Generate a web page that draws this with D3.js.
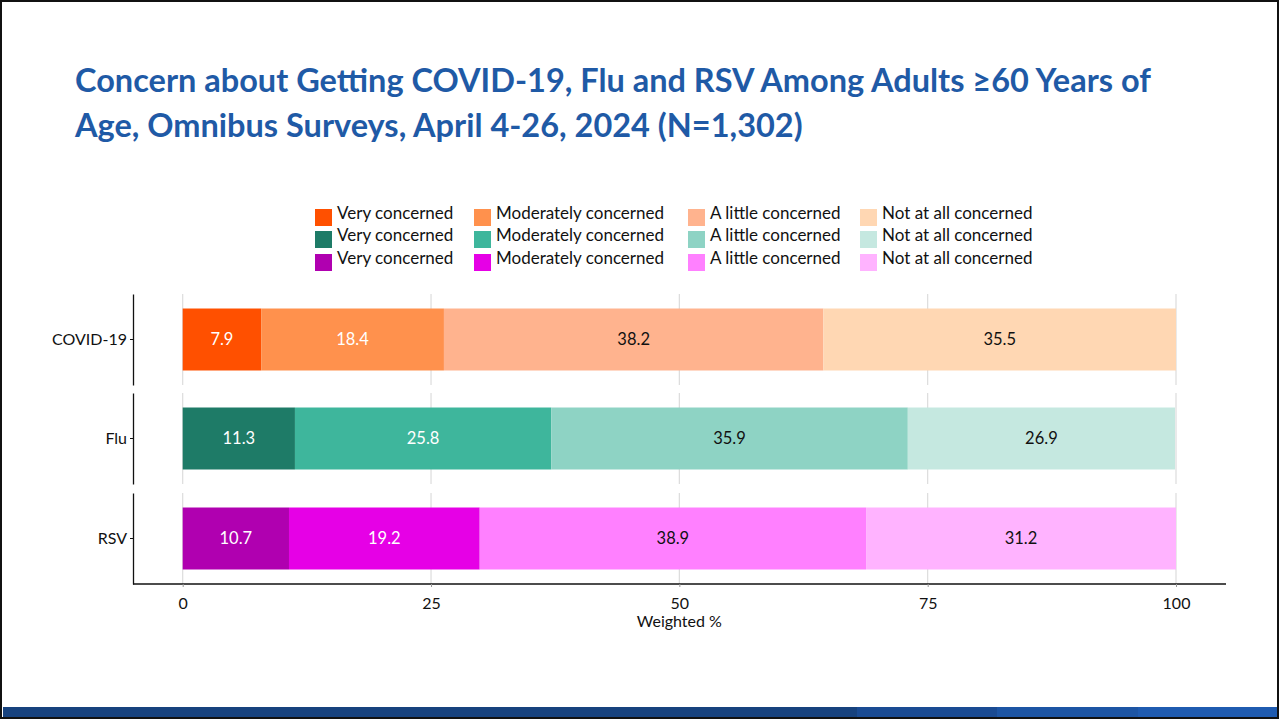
<!DOCTYPE html>
<html lang="en">
<head>
	<meta charset="utf-8">
	<title>Concern about COVID-19, Flu and RSV</title>
	<script src="https://cdn.jsdelivr.net/npm/d3@7"></script>
	<style>
		body { margin: 0; background: #fff; }
		svg { display: block; font-family: Lato, "Open Sans", sans-serif; }
	</style>
</head>
<body>
<script>
	// data
	var categories = ["COVID-19", "Flu", "RSV"];
	var levels = ["Very concerned", "Moderately concerned", "A little concerned", "Not at all concerned"];
	var covidValues = [7.9, 18.4, 38.2, 35.5];
	var fluValues = [11.3, 25.8, 35.9, 26.9];
	var rsvValues = [10.7, 19.2, 38.9, 31.2];
	var xTicks = [0, 25, 50, 75, 100];

	var seriesValues = [covidValues, fluValues, rsvValues];
	var palette = [
		["#ff5000", "#ff914d", "#ffb38e", "#ffd7b3"],
		["#1e7b67", "#3eb69c", "#8ed3c4", "#c5e8e0"],
		["#b000b0", "#e600e6", "#ff80ff", "#ffb3ff"]
	];
	// labels in white on the two darker shades
	var whiteText = [true, true, false, false];

	var w = 1279, h = 719;

	var svg = d3.select("body").append("svg")
		.attr("width", w)
		.attr("height", h);

	// slide frame
	svg.append("rect")
		.attr("x", 1).attr("y", 1)
		.attr("width", w - 2).attr("height", h - 2)
		.attr("fill", "none")
		.attr("stroke", "#111")
		.attr("stroke-width", 2);

	// bottom band
	var band = [[3, 857, "#17427e"], [857, 997, "#1a4b93"], [997, 1138, "#1d55a4"], [1138, 1277, "#1f5bb0"]];
	svg.selectAll("rect.band")
		.data(band)
		.enter().append("rect")
		.attr("class", "band")
		.attr("x", function (d) { return d[0]; })
		.attr("y", 707)
		.attr("width", function (d) { return d[1] - d[0]; })
		.attr("height", 10)
		.attr("fill", function (d) { return d[2]; });

	// title
	var title = svg.append("text")
		.attr("fill", "#1f5aa6")
		.attr("font-weight", "bold")
		.attr("font-size", "32.5px");
	title.append("tspan").attr("x", 75).attr("y", 92)
		.text("Concern about Getting COVID-19, Flu and RSV Among Adults \u226560 Years of");
	title.append("tspan").attr("x", 75).attr("y", 137)
		.text("Age, Omnibus Surveys, April 4-26, 2024 (N=1,302)");

	// legend: one row per category, one column per level
	var legendX = [315, 474, 688, 860];
	var legendY = [209, 231, 254];
	var legend = svg.append("g");
	categories.forEach(function (c, ci) {
		levels.forEach(function (lv, li) {
			legend.append("rect")
				.attr("x", legendX[li])
				.attr("y", legendY[ci])
				.attr("width", 17).attr("height", 17)
				.attr("fill", palette[ci][li]);
			legend.append("text")
				.attr("x", legendX[li] + 22)
				.attr("y", legendY[ci] + 8)
				.attr("dy", "0.1em")
				.attr("font-size", "17px")
				.attr("fill", "#111")
				.text(lv);
		});
	});

	// scales
	var xScale = d3.scaleLinear()
		.domain([0, 100])
		.range([182.7, 1176]);

	var panelTop = [294, 393, 493];
	var panelH = 91;
	var axisLeft = 133, axisRight = 1226;

	categories.forEach(function (c, ci) {
		var g = svg.append("g");
		var top = panelTop[ci];
		var pScale = d3.scaleBand()
			.domain([c])
			.range([top, top + panelH])
			.paddingInner(0)
			.paddingOuter(0.234);

		// gridlines
		g.selectAll("line.grid")
			.data(xTicks)
			.enter().append("line")
			.attr("x1", function (d) { return xScale(d); })
			.attr("x2", function (d) { return xScale(d); })
			.attr("y1", top)
			.attr("y2", top + panelH)
			.attr("stroke", "#dcdcdc")
			.attr("stroke-width", 1.2);

		// stacked segments
		var vals = seriesValues[ci];
		var starts = [];
		var acc = 0;
		vals.forEach(function (v) { starts.push(acc); acc += v; });

		g.selectAll("rect.seg")
			.data(vals)
			.enter().append("rect")
			.attr("x", function (d, i) { return xScale(starts[i]); })
			.attr("y", pScale(c))
			.attr("width", function (d, i) { return xScale(starts[i] + d) - xScale(starts[i]); })
			.attr("height", pScale.bandwidth())
			.attr("fill", function (d, i) { return palette[ci][i]; });

		g.selectAll("text.lbl")
			.data(vals)
			.enter().append("text")
			.attr("x", function (d, i) { return (xScale(starts[i]) + xScale(starts[i] + d)) / 2; })
			.attr("y", pScale(c) + pScale.bandwidth() / 2)
			.attr("dy", "0.35em")
			.attr("text-anchor", "middle")
			.attr("font-size", "16.5px")
			.attr("fill", function (d, i) { return whiteText[i] ? "#fff" : "#111"; })
			.text(function (d) { return d.toFixed(1); });

		// y axis per panel
		var yAxis = d3.axisLeft(pScale).tickSize(3).tickSizeOuter(0);
		var ya = g.append("g")
			.attr("transform", "translate(" + axisLeft + ",0)")
			.call(yAxis);
		ya.select(".domain").attr("stroke", "#111").attr("stroke-width", 1.3);
		ya.selectAll(".tick line").attr("stroke", "#111");
		ya.selectAll("text")
			.attr("font-family", "Lato, sans-serif")
			.attr("font-size", "16px")
			.attr("fill", "#111");
	});

	// x axis
	var xAxis = d3.axisBottom(xScale)
		.tickValues(xTicks)
		.tickSize(3)
		.tickSizeOuter(0);
	var xa = svg.append("g")
		.attr("transform", "translate(0,584)")
		.call(xAxis);
	xa.select(".domain")
		.attr("d", "M" + axisLeft + ",0H" + axisRight)
		.attr("stroke", "#111")
		.attr("stroke-width", 1.3);
	xa.selectAll(".tick line").attr("stroke", "#999");
	xa.selectAll("text")
		.attr("font-family", "Lato, sans-serif")
		.attr("font-size", "16px")
		.attr("fill", "#111")
		.attr("y", 14);

	svg.append("text")
		.attr("x", xScale(50))
		.attr("y", 627)
		.attr("text-anchor", "middle")
		.attr("font-size", "16px")
		.attr("fill", "#111")
		.text("Weighted %");
</script>
</body>
</html>
